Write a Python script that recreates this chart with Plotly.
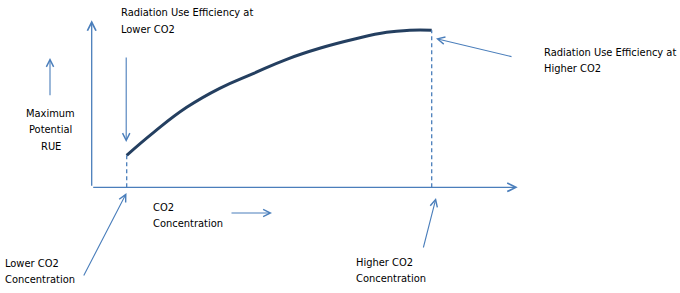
import plotly.graph_objects as go

# Conceptual data (arbitrary units: CO2 concentration vs maximum potential RUE)
co2 = [35, 62, 95, 128, 162, 195, 228, 262, 295, 318, 340]
rue = [32, 55, 80, 99, 114, 128, 139, 148, 155, 157, 157]
co2_low, co2_high = co2[0], co2[-1]
rue_low, rue_high = rue[0], rue[-1]

x_axis_end = 426
y_axis_end = 167

labels = [
    ["Radiation Use Efficiency at", "Lower CO2"],
    ["Maximum", "Potential", "RUE"],
    ["CO2", "Concentration"],
    ["Lower CO2", "Concentration"],
    ["Higher CO2", "Concentration"],
    ["Radiation Use Efficiency at", "Higher CO2"],
]
label_x = [27, -41, 59, -89, 262, 450]
label_y = [174.8, 74.3, -19.7, -75.7, -74.7, 135.3]
label_anchor = ["left", "center", "left", "left", "left", "left"]
line_gap = 16.5

# pointer arrows: (tail_x, tail_y, head_x, head_y)
pointers = [
    (-41.7, 90.6, -41.7, 129.3),
    (34.5, 131.3, 34.5, 45.3),
    (-8.7, -89.7, 34.8, -5.7),
    (138.3, -25.7, 180.3, -25.7),
    (331.3, -61.7, 344.3, -10.7),
    (421.3, 130.3, 344.3, 148.8),
]

AX = "#4A7EBB"
FONT = dict(family="DejaVu Sans Condensed, Liberation Sans Narrow, Roboto", size=11, color="#000000")
fig = go.Figure()

fig.add_trace(go.Scatter(x=co2, y=rue, mode="lines", line=dict(color="#243F60", width=3, shape="spline", smoothing=1.3),
                         hoverinfo="skip"))
for cx, cy in [(co2_low, rue_low), (co2_high, rue_high)]:
    fig.add_trace(go.Scatter(x=[cx, cx], y=[0, cy], mode="lines",
                             line=dict(color=AX, width=1.3, dash="4px,3px"), hoverinfo="skip"))

ann = []
for hx, hy in [(0, y_axis_end), (x_axis_end, 0)]:
    ann.append(dict(x=hx, y=hy, ax=0, ay=0, xref="x", yref="y", axref="x", ayref="y",
                    showarrow=True, arrowhead=5, arrowsize=1.3, arrowwidth=1.3, arrowcolor=AX,
                    standoff=0, startstandoff=0, text=""))
for tx, ty, hx, hy in pointers:
    ann.append(dict(x=hx, y=hy, ax=tx, ay=ty, xref="x", yref="y", axref="x", ayref="y",
                    showarrow=True, arrowhead=5, arrowsize=1.3, arrowwidth=1.1, arrowcolor=AX,
                    standoff=0, startstandoff=0, text=""))
for lines, lx, ly, anc in zip(labels, label_x, label_y, label_anchor):
    for i, t in enumerate(lines):
        ann.append(dict(x=lx, y=ly - i * line_gap, xref="x", yref="y", text=t, showarrow=False,
                        xanchor=anc, yanchor="middle", align=anc, font=FONT))

fig.update_layout(
    width=680, height=293, margin=dict(l=0, r=0, t=0, b=0),
    paper_bgcolor="white", plot_bgcolor="white", showlegend=False,
    xaxis=dict(range=[-91.7, 588.3], visible=False, fixedrange=True),
    yaxis=dict(range=[-105.7, 187.3], visible=False, fixedrange=True),
    annotations=ann,
)
fig.write_html("out.html")
